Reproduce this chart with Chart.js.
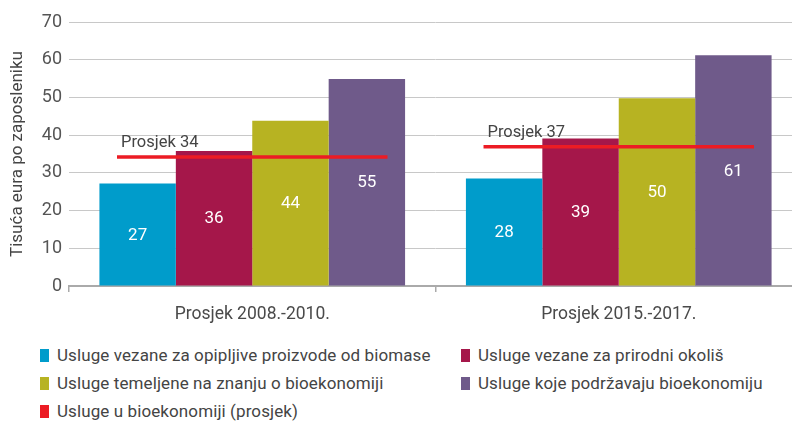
<!DOCTYPE html>
<html>
<head>
<meta charset="utf-8">
<script src="https://cdn.jsdelivr.net/npm/chart.js@4"></script>
<style>
  html, body { margin: 0; padding: 0; background: #fff; }
  body { width: 792px; height: 422px; position: relative; overflow: hidden;
    font-family: 'Roboto', sans-serif; }
  #wrap { position: absolute; left: 0; top: 0; width: 802px; height: 337px; }
  .legend { position: absolute; font-size: 17px; line-height: 20px; color: #444; white-space: nowrap; letter-spacing: 0.1px; }
  .legend span.box { display: inline-block; width: 9px; height: 13px; margin-right: 8px; vertical-align: -1px; }
</style>
</head>
<body>
<div id="wrap"><canvas id="chart"></canvas></div>
<div id="legend"></div>
<script>
const categories = ['Prosjek 2008.-2010.', 'Prosjek 2015.-2017.'];
const seriesNames = [
  'Usluge vezane za opipljive proizvode od biomase',
  'Usluge vezane za prirodni okoliš',
  'Usluge temeljene na znanju o bioekonomiji',
  'Usluge koje podržavaju bioekonomiju',
];
const seriesValues = [
  [27.2, 28.5],
  [35.8, 39.1],
  [43.8, 49.8],
  [54.9, 61.2],
];
const seriesLabels = [
  ['27', '28'],
  ['36', '39'],
  ['44', '50'],
  ['55', '61'],
];
const averageName = 'Usluge u bioekonomiji (prosjek)';
const averageValues = [34.2, 36.9];
const averageLabels = ['Prosjek 34', 'Prosjek 37'];
const colors = ['#009ccb', '#a5174a', '#b7b322', '#6f5a8a'];
const averageColor = '#ec1c24';
const yTicks = [0, 10, 20, 30, 40, 50, 60, 70];

const FONT = "'Roboto', sans-serif";

// average line: one short segment per category, x given as fractional category index
const avgHalf = 0.369;
const avgPoints = [];
averageValues.forEach((v, i) => {
  if (i > 0) avgPoints.push({ x: i - 0.5, y: null });
  avgPoints.push({ x: i - avgHalf, y: v });
  avgPoints.push({ x: i + avgHalf, y: v });
});

const labelPlugin = {
  id: 'labels',
  afterDatasetsDraw(chart) {
    const ctx = chart.ctx;
    ctx.save();
    ctx.font = '17px ' + FONT;
    ctx.textAlign = 'center';
    ctx.textBaseline = 'middle';
    ctx.fillStyle = '#ffffff';
    seriesValues.forEach((_s, di) => {
      chart.getDatasetMeta(di).data.forEach((bar, i) => {
        ctx.fillText(seriesLabels[di][i], bar.x, (bar.y + bar.base) / 2 + 1);
      });
    });
    const avgMeta = chart.getDatasetMeta(seriesValues.length);
    const starts = avgMeta.data.filter((_p, k) => avgPoints[k].y !== null);
    ctx.font = '16.5px ' + FONT;
    ctx.fillStyle = '#444';
    ctx.textAlign = 'left';
    ctx.textBaseline = 'bottom';
    averageLabels.forEach((label, i) => {
      const p = starts[i * 2];
      ctx.fillText(label, p.x + 4, p.y - 6);
    });
    ctx.restore();
  },
};

const datasets = seriesValues.map((vals, i) => ({
  type: 'bar',
  label: seriesNames[i],
  data: vals,
  backgroundColor: colors[i],
  borderWidth: 0,
  categoryPercentage: 0.834,
  barPercentage: 1.0,
  order: 2,
}));
datasets.push({
  type: 'line',
  label: averageName,
  data: avgPoints,
  parsing: false,
  borderColor: averageColor,
  borderWidth: 3.5,
  pointRadius: 0,
  spanGaps: false,
  order: 1,
});

new Chart(document.getElementById('chart'), {
  data: { labels: categories, datasets },
  options: {
    responsive: true,
    maintainAspectRatio: false,
    animation: false,
    layout: { padding: { top: 22, right: 0, left: 0, bottom: 0 } },
    plugins: { legend: { display: false }, tooltip: { enabled: false } },
    scales: {
      x: {
        type: 'category',
        offset: true,
        grid: { display: true, drawOnChartArea: false, drawTicks: true, tickLength: 6, color: '#aaa', lineWidth: 1.5, offset: true },
        border: { display: true, color: '#aaa', width: 2 },
        ticks: { color: '#4a4a4a', font: { family: FONT, size: 17.5 }, padding: 12 },
      },
      y: {
        min: 0,
        max: 70,
        afterBuildTicks(axis) { axis.ticks = yTicks.map((v) => ({ value: v })); },
        afterFit(axis) { axis.width = 69; },
        grid: { color: '#c8c8c8', lineWidth: 1, drawTicks: false },
        border: { display: false },
        ticks: { color: '#555', font: { family: FONT, size: 18 }, padding: 7 },
        title: { display: true, text: 'Tisuća eura po zaposleniku', color: '#444', font: { family: FONT, size: 17 }, padding: { top: 8, bottom: 2 } },
      },
    },
  },
  plugins: [labelPlugin],
});

// legend in two columns like the original
const legendItems = seriesNames.map((name, i) => ({ name, color: colors[i] }));
legendItems.push({ name: averageName, color: averageColor });
const legendPos = [[40, 345], [461, 345], [40, 373], [461, 373], [40, 401]];
const legendEl = document.getElementById('legend');
legendItems.forEach((item, i) => {
  const div = document.createElement('div');
  div.className = 'legend';
  div.style.left = legendPos[i][0] + 'px';
  div.style.top = legendPos[i][1] + 'px';
  div.innerHTML = '<span class="box" style="background:' + item.color + '"></span>' + item.name;
  legendEl.appendChild(div);
});
</script>
</body>
</html>
